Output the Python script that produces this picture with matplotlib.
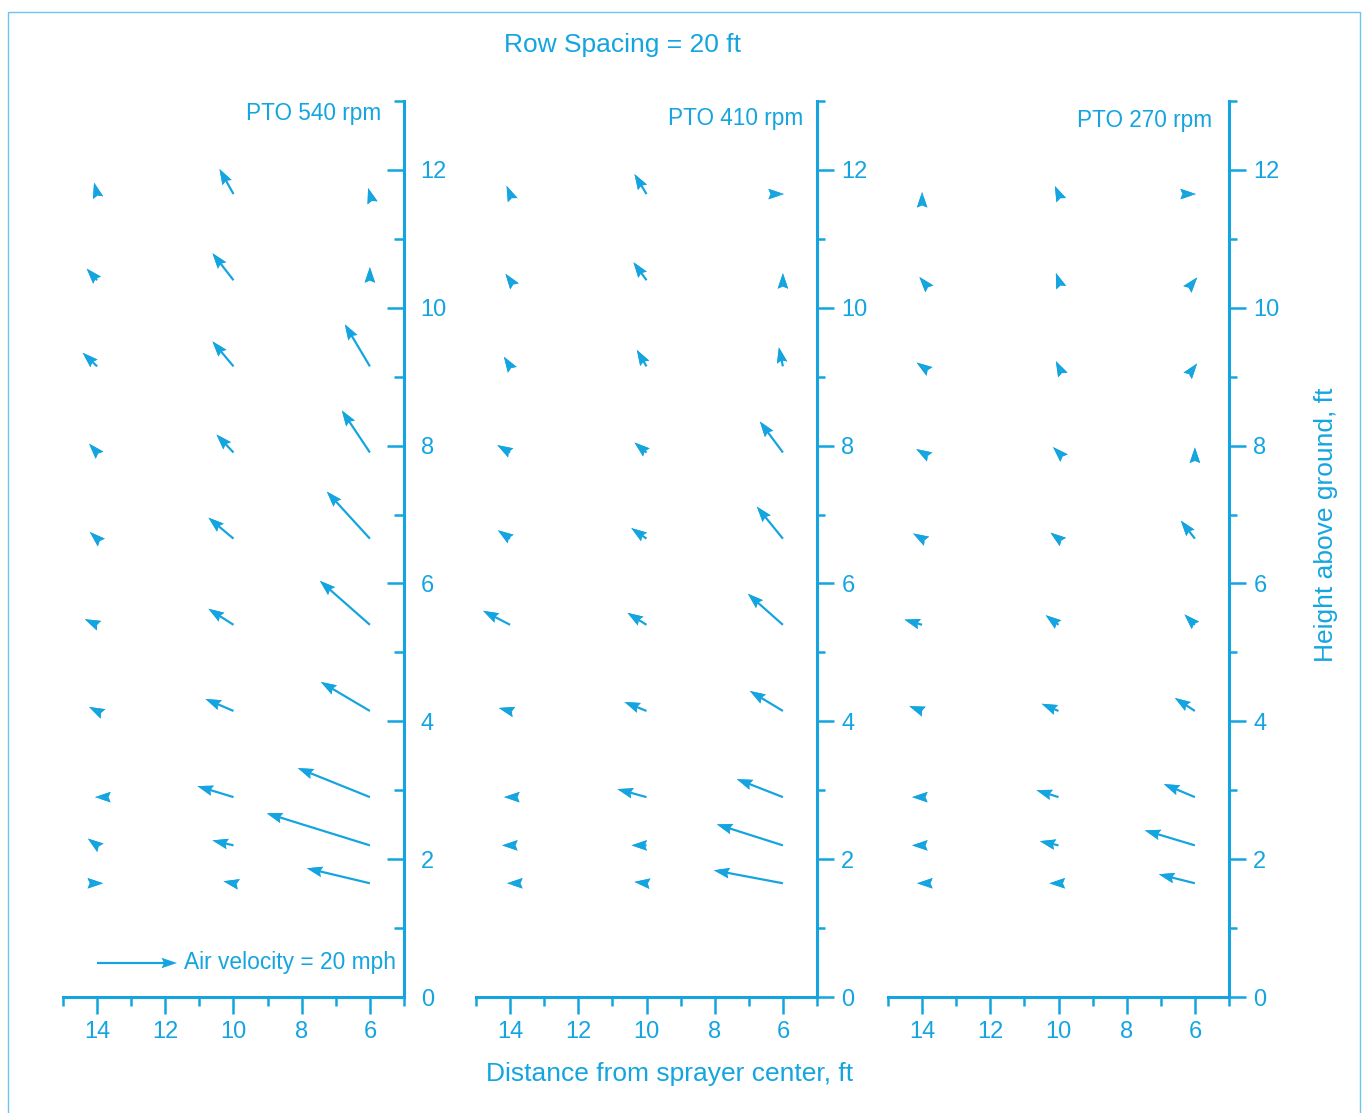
import numpy as np
import matplotlib
matplotlib.use('Agg')
import matplotlib.pyplot as plt
from matplotlib.patches import Rectangle

BLUE = '#14a5e0'
plt.rcParams['font.family'] = ['Liberation Sans', 'DejaVu Sans']

# grid of measuring points
distance = [14, 10, 6]                                          # ft from sprayer center
height = [11.65, 10.4, 9.15, 7.9, 6.65, 5.4, 4.15, 2.9, 2.2, 1.65]  # ft above ground
titles = ['PTO 540 rpm', 'PTO 410 rpm', 'PTO 270 rpm']

# air velocity in mph, rows follow `height`, columns follow `distance`
# u > 0 is outward (away from the sprayer), v > 0 is upward
u540 = [[0.76, 3.5, 0.45], [2.6, 5.25, 0.0], [3.6, 5.25, 6.25], [2.0, 4.25, 7.0],
        [1.8, 6.25, 10.75], [3.05, 6.25, 12.5], [2.0, 7.0, 12.25], [0.5, 9.0, 18.0],
        [2.3, 5.25, 25.75], [-1.5, 2.5, 15.75]]
v540 = [[2.85, 6.25, 1.5], [2.9, 6.75, 3.25], [3.4, 6.25, 10.5], [2.2, 4.5, 10.5],
        [1.65, 5.25, 11.75], [1.4, 4.0, 11.0], [1.0, 3.0, 7.25], [0.0, 2.75, 7.25],
        [1.7, 1.25, 8.0], [0.0, 0.5, 3.75]]

u410 = [[0.87, 3.0, -0.25], [1.16, 3.25, 0.0], [1.54, 2.4, 1.0], [3.2, 3.0, 5.75],
        [3.05, 3.8, 6.5], [6.75, 4.75, 8.75], [2.8, 5.5, 8.25], [1.5, 7.25, 11.5],
        [2.0, 3.75, 16.5], [0.75, 3.0, 17.25]]
v410 = [[2.05, 5.0, 0.0], [1.62, 4.5, 1.75], [2.4, 4.1, 4.75], [1.85, 2.5, 7.75],
        [2.1, 2.65, 8.0], [3.5, 3.0, 7.75], [0.75, 2.25, 5.0], [0.0, 2.0, 4.5],
        [0.0, 0.0, 5.25], [0.0, 0.35, 3.25]]

u270 = [[0.0, 0.9, -0.25], [0.67, 0.65, -0.57], [1.35, 0.65, -0.55], [1.45, 1.35, 0.0],
        [2.25, 2.0, 3.5], [4.4, 3.2, 2.6], [3.2, 4.2, 5.0], [2.5, 5.5, 7.75],
        [2.5, 4.65, 12.5], [1.25, 2.25, 9.0]]
v270 = [[0.5, 2.0, 0.0], [0.8, 1.8, 0.7], [0.94, 1.3, 0.72], [0.86, 1.35, 1.25],
        [1.3, 1.5, 4.5], [1.3, 2.4, 2.6], [1.2, 1.8, 3.25], [0.0, 1.75, 3.25],
        [0.0, 1.05, 3.75], [0.0, 0.0, 2.25]]

panels = [(u540, v540), (u410, v410), (u270, v270)]

W, H = 1362, 1113
fig = plt.figure(figsize=(W / 100, H / 100), dpi=100)
fig.patch.set_facecolor('white')

X, Y = np.meshgrid(distance, height)
lefts = [63, 476, 888]

# arrow geometry in pixels
SHAFT = 2.2
HEAD_L, HEAD_W, HEAD_AX = 15.5, 10.5, 13.5


def arrows(ax, U, V, w):
    return ax.quiver(X, Y, U, V, color=BLUE, angles='uv', pivot='tail',
                     units='dots', width=w, scale_units='dots', scale=0.25,
                     headwidth=HEAD_W / w, headlength=HEAD_L / w,
                     headaxislength=HEAD_AX / w, minshaft=0.01, minlength=0,
                     linewidth=0, zorder=3)


for i, (u, v) in enumerate(panels):
    ax = fig.add_axes([lefts[i] / W, (H - 997) / H, 341 / W, 896 / H])
    ax.set_xlim(15, 5)
    ax.set_ylim(0, 13)
    ax.patch.set_alpha(0)

    for s in ['left', 'top']:
        ax.spines[s].set_visible(False)
    for s in ['bottom', 'right']:
        ax.spines[s].set_color(BLUE)
        ax.spines[s].set_linewidth(2.2)

    ax.yaxis.tick_right()
    ax.set_xticks([14, 12, 10, 8, 6])
    ax.set_xticks([15, 13, 11, 9, 7, 5], minor=True)
    ax.set_yticks(range(0, 13, 2))
    ax.set_yticks(range(1, 14, 2), minor=True)

    ax.tick_params(axis='x', which='major', direction='out', length=12.5, width=1.8,
                   colors=BLUE, labelsize=17, pad=5)
    ax.tick_params(axis='x', which='minor', direction='out', length=6.5, width=1.8,
                   colors=BLUE)
    if i == 0:
        ax.tick_params(axis='y', which='major', direction='in', length=12.5, width=1.8,
                       colors=BLUE, labelsize=17, pad=12)
        ax.tick_params(axis='y', which='minor', direction='in', length=7, width=1.8,
                       colors=BLUE)
    else:
        ax.tick_params(axis='y', which='major', direction='out', length=12.5, width=1.8,
                       colors=BLUE, labelsize=17, pad=5)
        ax.tick_params(axis='y', which='minor', direction='out', length=6, width=1.8,
                       colors=BLUE)

    # screen-right is toward the sprayer, so outward velocity points left
    U = -np.array(u)
    V = np.array(v)
    q = arrows(ax, U, V, SHAFT)
    # second pass with a hairline shaft fills the heads of the very short arrows
    arrows(ax, U, V, 0.05)

    ax.text([0.9326, 0.959, 0.95][i], [0.9855, 0.981, 0.978][i], titles[i],
            transform=ax.transAxes, ha='right', va='center', color=BLUE, fontsize=16.3)

    if i == 0:
        ax.quiverkey(q, (177 - 63) / 341, (997 - 963) / 896, 20, 'Air velocity = 20 mph',
                     labelpos='E', coordinates='axes', labelcolor=BLUE, labelsep=0.07,
                     fontproperties={'size': 16.4})

fig.text(623 / W, 1 - 45 / H, 'Row Spacing = 20 ft', ha='center', va='center',
         color=BLUE, fontsize=19)
fig.text(670 / W, 1 - 1074 / H, 'Distance from sprayer center, ft', ha='center',
         va='center', color=BLUE, fontsize=19)
fig.text(1326 / W, 1 - 525 / H, 'Height above ground, ft', ha='center', va='center',
         rotation=90, color=BLUE, fontsize=19)

fig.patches.append(Rectangle((8 / W, -0.01), (1360 - 8) / W, 1 - 12 / H + 0.01,
                             transform=fig.transFigure, fill=False,
                             edgecolor='#6cc6ec', linewidth=1))

fig.savefig('out.png', dpi=100, facecolor='white')
